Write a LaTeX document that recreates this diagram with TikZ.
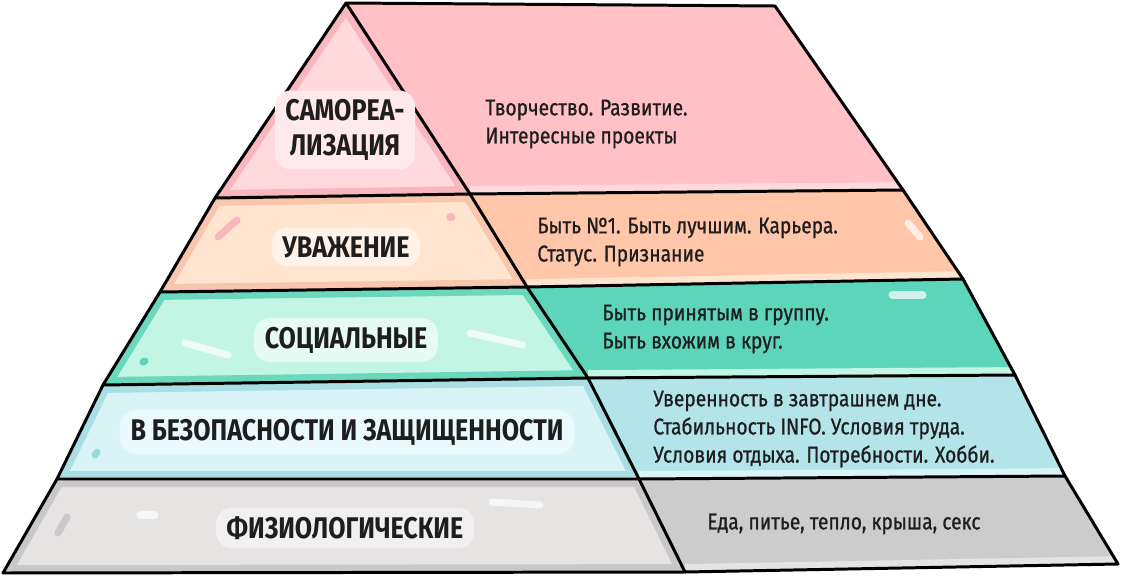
\documentclass[tikz,border=0pt]{standalone}
\usepackage{fontspec}
\setmainfont[FakeStretch=0.84]{Fira Sans}
\newfontfamily\notefont[FakeStretch=0.84, FakeBold=0.8]{Fira Sans}
\usetikzlibrary{calc}
\definecolor{Ink}{HTML}{1E1E1E}
\definecolor{SelfSide}{HTML}{FFC1C6}
\definecolor{SelfFront}{HTML}{FFD9DC}
\definecolor{SelfEdge}{HTML}{F9B6BD}
\definecolor{SelfPill}{HTML}{FFE9EB}
\definecolor{EsteemSide}{HTML}{FFC6AA}
\definecolor{EsteemFront}{HTML}{FFE4D0}
\definecolor{EsteemEdge}{HTML}{F8C6AC}
\definecolor{EsteemPill}{HTML}{FFF2E8}
\definecolor{SocialSide}{HTML}{5DD5BB}
\definecolor{SocialFront}{HTML}{C3F5E4}
\definecolor{SocialEdge}{HTML}{6BD8BE}
\definecolor{SocialPill}{HTML}{E6FBF4}
\definecolor{SafetySide}{HTML}{B3E4EA}
\definecolor{SafetyFront}{HTML}{D8F4F7}
\definecolor{SafetyEdge}{HTML}{A9DEE4}
\definecolor{SafetyPill}{HTML}{EAFAFC}
\definecolor{BodySide}{HTML}{CCCCCC}
\definecolor{BodyFront}{HTML}{E6E3E3}
\definecolor{BodyEdge}{HTML}{C9C7C7}
\definecolor{BodyPill}{HTML}{F1EFEF}

\begin{document}
\begin{tikzpicture}[x=0.02cm, y=-0.02cm,
          edge/.style={draw=black, line width=1.7pt, line join=round, line cap=round},
          level/.style={font=\fontsize{17}{20}\selectfont\bfseries, text=Ink,
                        rounded corners=9pt, inner xsep=6pt, inner ysep=5pt, align=center},
          note/.style={font=\notefont\fontsize{13}{16}\selectfont, text=Ink,
                       anchor=west, align=left, inner sep=0pt},
          shine/.style={draw=white, line width=4pt, line cap=round, opacity=0.7},
          spot/.style={line width=4pt, line cap=round}
        ]
        \useasboundingbox (0,0) rectangle (1140,578);

        % Corners
        \coordinate (apex) at (346,3);
        \coordinate (l1) at (215,198);
        \coordinate (l2) at (160,292);
        \coordinate (l3) at (103,385);
        \coordinate (l4) at (57,479);
        \coordinate (l5) at (3,573);
        \coordinate (d1) at (470,194);
        \coordinate (d2) at (527,287);
        \coordinate (d3) at (588,378);
        \coordinate (d4) at (639,479);
        \coordinate (d5) at (685,572);
        \coordinate (r0) at (775,6);
        \coordinate (r1) at (903,190);
        \coordinate (r2) at (963,279);
        \coordinate (r3) at (1015,375);
        \coordinate (r4) at (1065,476);
        \coordinate (r5) at (1118,564);

        % Side face
        \begin{scope}
          \clip (apex) -- (r0) -- (r1) -- (d1) -- cycle;
          \fill[SelfSide] (apex) -- (r0) -- (r1) -- (d1) -- cycle;
          \draw[SelfFront, line width=9pt] (d1) -- (r1);
        \end{scope}
        \begin{scope}
          \clip (d1) -- (r1) -- (r2) -- (d2) -- cycle;
          \fill[EsteemSide] (d1) -- (r1) -- (r2) -- (d2) -- cycle;
          \draw[EsteemFront, line width=9pt] (d2) -- (r2);
        \end{scope}
        \begin{scope}
          \clip (d2) -- (r2) -- (r3) -- (d3) -- cycle;
          \fill[SocialSide] (d2) -- (r2) -- (r3) -- (d3) -- cycle;
          \draw[SocialFront, line width=9pt] (d3) -- (r3);
        \end{scope}
        \begin{scope}
          \clip (d3) -- (r3) -- (r4) -- (d4) -- cycle;
          \fill[SafetySide] (d3) -- (r3) -- (r4) -- (d4) -- cycle;
          \draw[SafetyFront, line width=9pt] (d4) -- (r4);
        \end{scope}
        \begin{scope}
          \clip (d4) -- (r4) -- (r5) -- (d5) -- cycle;
          \fill[BodySide] (d4) -- (r4) -- (r5) -- (d5) -- cycle;
          \draw[BodyFront, line width=9pt] (d5) -- (r5);
        \end{scope}

        % Front face
        \begin{scope}
          \clip (apex) -- (d1) -- (l1) -- cycle;
          \fill[SelfFront] (apex) -- (d1) -- (l1) -- cycle;
          \draw[SelfEdge, line width=9pt] (apex) -- (d1) -- (l1) -- cycle;
        \end{scope}
        \begin{scope}
          \clip (l1) -- (d1) -- (d2) -- (l2) -- cycle;
          \fill[EsteemFront] (l1) -- (d1) -- (d2) -- (l2) -- cycle;
          \draw[EsteemEdge, line width=9pt] (l1) -- (d1) -- (d2) -- (l2) -- cycle;
        \end{scope}
        \begin{scope}
          \clip (l2) -- (d2) -- (d3) -- (l3) -- cycle;
          \fill[SocialFront] (l2) -- (d2) -- (d3) -- (l3) -- cycle;
          \draw[SocialEdge, line width=9pt] (l2) -- (d2) -- (d3) -- (l3) -- cycle;
        \end{scope}
        \begin{scope}
          \clip (l3) -- (d3) -- (d4) -- (l4) -- cycle;
          \fill[SafetyFront] (l3) -- (d3) -- (d4) -- (l4) -- cycle;
          \draw[SafetyEdge, line width=9pt] (l3) -- (d3) -- (d4) -- (l4) -- cycle;
        \end{scope}
        \begin{scope}
          \clip (l4) -- (d4) -- (d5) -- (l5) -- cycle;
          \fill[BodyFront] (l4) -- (d4) -- (d5) -- (l5) -- cycle;
          \draw[BodyEdge, line width=9pt] (l4) -- (d4) -- (d5) -- (l5) -- cycle;
        \end{scope}

        % Highlights
        \draw[shine] (908,223) -- (920,237);
        \draw[shine] (892,295) -- (923,295);
        \draw[shine] (185,343) -- (228,355);
        \draw[shine] (470,333) -- (523,345);
        \draw[shine] (140,515) -- (155,515);
        \draw[shine] (492,502) -- (540,505);
        \draw[spot, SelfEdge] (237,220) -- (218,237);
        \draw[spot, SelfEdge] (450,217) -- (452,217);
        \draw[spot, SocialSide] (143,362) -- (145,361);
        \draw[spot, SafetyEdge!80!SocialSide] (95,455) -- (97,452);
        \draw[spot, BodyEdge] (67,517) -- (58,533);

        % Outline
        \draw[edge] (apex) -- (l1) -- (l2) -- (l3) -- (l4) -- (l5) -- (d5)
                    -- (r5) -- (r4) -- (r3) -- (r2) -- (r1) -- (r0) -- cycle;
        \draw[edge] (apex) -- (d1) -- (d2) -- (d3) -- (d4) -- (d5);
        \draw[edge] (l1) -- (d1) -- (r1);
        \draw[edge] (l2) -- (d2) -- (r2);
        \draw[edge] (l3) -- (d3) -- (r3);
        \draw[edge] (l4) -- (d4) -- (r4);

        % Levels
        \node[level, fill=SelfPill] (self) at (345,130) {САМОРЕА-\\ЛИЗАЦИЯ};
        \node[level, fill=EsteemPill] (esteem) at (346,247) {УВАЖЕНИЕ};
        \node[level, fill=SocialPill] (social) at (346,340) {СОЦИАЛЬНЫЕ};
        \node[level, fill=SafetyPill] (safety) at (347,432) {В БЕЗОПАСНОСТИ И ЗАЩИЩЕННОСТИ};
        \node[level, fill=BodyPill] (body) at (345,528) {ФИЗИОЛОГИЧЕСКИЕ};

        % Needs
        \node[note] (selfnote) at (485,124)
              {Творчество. Развитие.\\Интересные проекты};
        \node[note] (esteemnote) at (537,242)
              {Быть №1. Быть лучшим. Карьера.\\Статус. Признание};
        \node[note] (socialnote) at (602,329)
              {Быть принятым в группу.\\Быть вхожим в круг.};
        \node[note] (safetynote) at (653,429)
              {Уверенность в завтрашнем дне.\\Стабильность INFO. Условия труда.\\Условия отдыха. Потребности. Хобби.};
        \node[note] (bodynote) at (707,524)
              {Еда, питье, тепло, крыша, секс};
      \end{tikzpicture}
\end{document}
